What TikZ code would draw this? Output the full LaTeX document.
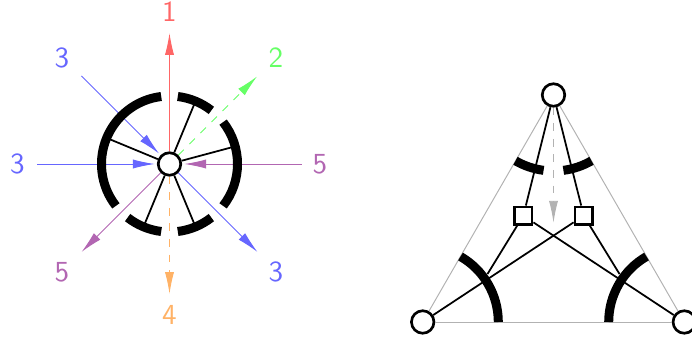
\documentclass[tikz,border=0pt]{standalone}
\usetikzlibrary{arrows.meta}
\tikzset{
    hub/.style={circle, draw=black, fill=white, line width=1.9pt, minimum size=16pt, inner sep=0pt},
    box/.style={rectangle, draw=black, fill=white, line width=1.9pt, minimum size=12.5pt, inner sep=0pt},
    spoke/.style={black, line width=1.25pt},
    thickarc/.style={black, line width=6.4pt},
    edge/.style={black!30, line width=0.7pt},
    flow/.style={->, line width=0.7pt, >={Latex[length=15.6pt, width=6.5pt]}},
    flowdash/.style={flow, dash pattern=on 5.5pt off 5.6pt},
    num/.style={font=\sffamily, scale=2.07}
}
\begin{document}
\begin{tikzpicture}
    \useasboundingbox (-4.2375,-4.425) rectangle (13.0625,4.1);

    % Vertice centrale
    \node[hub] (c) at (0,0) {};

    % Estremi liberi delle frecce
    \coordinate (e1) at (0,3.275);
    \coordinate (e2) at (2.19,2.19);
    \coordinate (e3) at (-2.2,2.2);
    \coordinate (e4) at (-3.3,0);
    \coordinate (e5) at (3.3,0);
    \coordinate (e6) at (-2.2,-2.2);
    \coordinate (e7) at (2.2,-2.2);
    \coordinate (e8) at (0,-3.25);

    % Frecce entranti e uscenti
    \draw[flow, red!60] (c) -- (e1);
    \draw[flowdash, green!60] (c) -- (e2);
    \draw[flow, blue!60, shorten >=1.5pt] (e3) -- (c);
    \draw[flow, blue!60, shorten >=1.5pt] (e4) -- (c);
    \draw[flow, violet!60, shorten >=1.5pt] (e5) -- (c);
    \draw[flow, violet!60] (c) -- (e6);
    \draw[flow, blue!60] (c) -- (e7);
    \draw[flowdash, orange!60] (c) -- (e8);

    % Etichette
    \node[num, red!60] (n1) at (0,3.8) {1};
    \node[num, green!60] (n2) at (2.66,2.65) {2};
    \node[num, blue!60] (n3) at (-2.69,2.65) {3};
    \node[num, blue!60] (n4) at (-3.8,0) {3};
    \node[num, violet!60] (n5) at (3.76,0) {5};
    \node[num, violet!60] (n6) at (-2.69,-2.7) {5};
    \node[num, blue!60] (n7) at (2.66,-2.7) {3};
    \node[num, orange!60] (n8) at (0,-3.78) {4};

    % Raggi
    \foreach \a [count=\k] in {15, 67.5, 157.5, 247.5, 292.5} {
        \coordinate (s\k) at (\a:1.7);
        \draw[spoke] (c) -- (s\k);
    }

    % Archi spessi
    \foreach \a/\b in {97/218, 232/263, 277/308, 322/398, 412/443} {
        \draw[thickarc] (\a:1.7) arc[start angle=\a, end angle=\b, radius=1.7];
    }

    % Triangolo
    \node[hub] (pt) at (9.6,1.725) {};
    \node[hub] (pl) at (6.33,-3.95) {};
    \node[hub] (pr) at (12.87,-3.95) {};
    \node[box] (q1) at (8.845,-1.2925) {};
    \node[box] (q2) at (10.355,-1.2925) {};
    \coordinate (t1) at (9.6,-1.4675);
    \coordinate (a1) at (7.95,-2.75);
    \coordinate (a2) at (11.25,-2.75);

    \draw[edge] (pt) -- (pl);
    \draw[edge] (pt) -- (pr);
    \draw[edge] (pl) -- (pr);
    \draw[flowdash, black!30] (pt) -- (t1);

    % Linee nere
    \draw[spoke] (pt) -- (q1);
    \draw[spoke] (pt) -- (q2);
    \draw[spoke] (q1) -- (a1);
    \draw[spoke] (q2) -- (a2);
    \draw[spoke] (q1) -- (pr);
    \draw[spoke] (q2) -- (pl);

    % Archi sui vertici
    \draw[thickarc] (pl.center) ++(0:1.89) arc[start angle=0, end angle=60, radius=1.89];
    \draw[thickarc] (pr.center) ++(180:1.89) arc[start angle=180, end angle=120, radius=1.89];
    \draw[thickarc] (pt.center) ++(240:1.9) arc[start angle=240, end angle=262.5, radius=1.9];
    \draw[thickarc] (pt.center) ++(300:1.9) arc[start angle=300, end angle=277.5, radius=1.9];
\end{tikzpicture}
\end{document}
